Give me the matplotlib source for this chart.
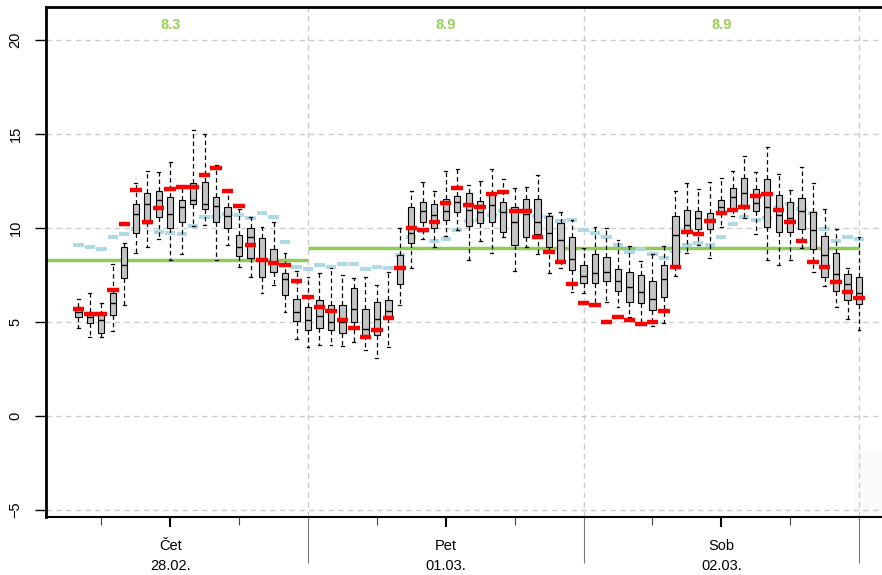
import numpy as np
import matplotlib.pyplot as plt
from matplotlib.patches import Rectangle

plt.rcParams['font.family'] = ['Liberation Sans Narrow', 'Liberation Sans', 'DejaVu Sans']

# hourly forecast steps, counted from 28.02. 00 h
hours = np.arange(4, 73)

# ensemble spread per hour (whisker low, quartiles, median, whisker high)
ens_low = [4.65, 4.20, 4.17, 4.52, 5.89, 8.67, 8.99, 9.38, 8.28, 8.60,
           10.09, 10.12, 8.28, 9.08, 7.93, 7.39, 6.55, 6.95, 5.53, 4.06,
           3.63, 3.76, 3.76, 3.71, 3.94, 3.49, 3.05, 3.67, 5.89, 7.84,
           9.38, 8.99, 9.56, 9.88, 8.28, 9.31, 8.63, 9.49, 7.71, 8.99,
           8.60, 7.57, 7.84, 6.60, 6.51, 5.89, 6.06, 5.80, 5.27, 5.00,
           4.75, 4.91, 7.43, 8.63, 9.08, 8.37, 10.05, 10.60, 10.50, 9.66,
           8.28, 8.01, 8.28, 8.90, 7.66, 6.90, 5.80, 5.12, 4.56]
ens_q1 = [5.23, 4.91, 4.41, 5.35, 7.30, 9.73, 10.32, 10.59, 9.96, 10.32,
          11.24, 10.98, 10.32, 9.96, 8.49, 8.37, 7.39, 7.62, 6.42, 5.05,
          4.56, 4.65, 4.56, 4.38, 4.96, 4.29, 4.29, 5.18, 6.99, 9.17,
          10.32, 9.96, 10.41, 10.85, 10.09, 10.27, 10.32, 9.75, 9.08, 9.49,
          9.66, 8.95, 8.28, 7.74, 7.08, 7.04, 7.16, 6.65, 6.06, 5.98,
          5.62, 6.33, 7.98, 9.79, 9.91, 9.91, 10.76, 10.99, 11.21, 10.89,
          10.05, 9.79, 9.79, 9.91, 8.85, 7.39, 6.63, 6.15, 5.94]
ens_med = [5.53, 5.23, 5.09, 5.98, 8.01, 10.71, 11.24, 11.47, 10.71, 11.08,
           11.47, 11.24, 11.15, 10.62, 8.99, 9.49, 8.30, 8.16, 7.25, 5.53,
           5.10, 5.30, 5.00, 5.00, 5.66, 4.59, 5.12, 5.57, 7.87, 9.70,
           10.89, 10.67, 10.89, 11.38, 10.94, 10.82, 11.21, 10.85, 10.28, 10.73,
           10.32, 9.70, 9.34, 8.32, 7.44, 7.57, 7.66, 7.18, 6.83, 6.60,
           6.19, 7.27, 9.61, 10.14, 10.50, 10.41, 11.12, 11.65, 11.86, 11.33,
           11.08, 10.67, 10.50, 10.89, 9.88, 8.55, 7.52, 7.00, 6.54]
ens_q3 = [5.80, 5.53, 5.35, 6.54, 8.95, 11.24, 11.83, 11.95, 11.61, 11.47,
          12.39, 12.45, 11.61, 11.12, 9.61, 9.96, 9.43, 8.87, 7.57, 6.19,
          5.80, 6.15, 5.89, 5.89, 6.77, 5.66, 6.06, 6.15, 8.55, 11.08,
          11.38, 11.24, 11.52, 11.68, 11.86, 11.42, 11.79, 11.38, 11.12, 11.52,
          11.52, 10.64, 10.27, 9.52, 8.01, 8.60, 8.46, 7.80, 7.62, 7.48,
          7.18, 8.01, 10.62, 10.94, 10.89, 10.76, 11.47, 12.13, 12.62, 12.04,
          12.59, 11.74, 11.35, 11.56, 10.85, 9.56, 8.67, 7.54, 7.39]
ens_high = [6.21, 6.51, 5.98, 8.07, 9.17, 12.39, 13.03, 12.98, 13.51, 12.18,
            15.19, 14.98, 13.33, 12.00, 11.00, 10.59, 10.05, 10.32, 8.67, 7.71,
            7.40, 7.57, 7.84, 7.48, 7.30, 7.39, 6.95, 7.66, 9.96, 11.95,
            12.45, 11.97, 13.03, 13.10, 12.27, 12.48, 13.12, 12.57, 12.09, 12.15,
            12.80, 10.76, 10.82, 10.41, 8.90, 10.05, 9.96, 9.34, 9.02, 8.23,
            8.60, 9.02, 11.95, 12.36, 12.04, 12.45, 12.62, 13.03, 13.81, 12.98,
            14.31, 12.84, 12.00, 13.21, 12.39, 10.99, 9.91, 7.84, 9.49]

# deterministic run (red) and climate reference (light blue)
det = [5.67, 5.39, 5.39, 6.67, 10.18, 11.99, 10.28, 11.06, 12.06, 12.18,
       12.18, 12.80, 13.19, 11.97, 11.16, 9.08, 8.28, 8.10, 8.00, 7.16,
       6.30, 5.80, 5.57, 5.09, 4.68, 4.17, 4.56, 5.18, 7.87, 9.96,
       9.88, 10.32, 11.29, 12.09, 11.20, 11.08, 11.79, 11.88, 10.89, 10.89,
       9.49, 8.69, 8.19, 6.99, 5.98, 5.89, 4.96, 5.27, 5.07, 4.88,
       4.96, 5.57, 7.89, 9.79, 9.66, 10.37, 10.76, 10.94, 11.08, 11.70,
       11.79, 10.94, 10.32, 9.31, 8.19, 7.89, 7.09, 6.56, 6.28]
clim = [9.08, 8.99, 8.88, 9.49, 9.66, 9.93, 10.25, 9.79, 9.70, 9.66,
        10.07, 10.57, 10.57, 10.75, 10.65, 10.50, 10.76, 10.59, 9.26, 7.93,
        7.78, 8.01, 7.89, 8.07, 8.07, 7.78, 7.89, 7.84, 8.55, 9.49,
        9.85, 9.31, 9.38, 9.90, 10.37, 10.42, 10.65, 10.90, 10.89, 10.85,
        10.64, 10.59, 10.37, 10.39, 9.90, 9.70, 9.49, 9.08, 8.72, 8.87,
        8.58, 8.40, 8.78, 9.08, 9.17, 9.08, 9.50, 10.18, 10.59, 10.41,
        10.50, 11.08, 11.26, 10.98, 10.80, 9.91, 9.29, 9.49, 9.38]

day_start = [0, 24, 48]
day_mean = [8.3, 8.9, 8.9]
day_labels = ['Čet\n28.02.', 'Pet\n01.03.', 'Sob\n02.03.']

fig = plt.figure(figsize=(8.82, 5.75), dpi=100)
ax = fig.add_axes([46 / 882, 58 / 575, 1 - 46 / 882, 510 / 575])
ax.set_xlim(1.18, 74.0)
ax.set_ylim(-5.39, 21.74)

# grid
for y in [-5, 0, 5, 10, 15, 20]:
    ax.axhline(y, color='#cccccc', lw=1, ls=(0, (4, 3)), zorder=1)
for d in [24, 48, 72]:
    ax.axvline(d, color='#cccccc', lw=1, ls=(0, (4, 3)), zorder=1)

ax.add_patch(Rectangle((71.56, -5.39), 3, 3.57, facecolor='#fafafa',
                       edgecolor='none', zorder=0.5))

# daily means
ds = np.array(day_start)
ax.hlines(day_mean, ds, ds + 24, color='#8fcc55', lw=2.5, zorder=2)
for s, m in zip(day_start, day_mean):
    ax.text(s + 12, 20.8, f'{m:.1f}', color='#9acd5a', fontweight='bold',
            ha='center', va='center', fontsize=10.5)

h = np.array(hours, dtype=float)
ax.hlines(clim, h - 0.45, h + 0.45, color='#add8e6', lw=2.8, zorder=2,
          capstyle='butt')

stats = [dict(whislo=lo, q1=a, med=m, q3=b, whishi=hi, fliers=[])
         for lo, a, m, b, hi in zip(ens_low, ens_q1, ens_med, ens_q3, ens_high)]
ax.bxp(stats, positions=hours, widths=0.55, capwidths=0.25, patch_artist=True,
       manage_ticks=False,
       boxprops=dict(facecolor='#c4c4c4', edgecolor='black', lw=0.8),
       whiskerprops=dict(color='black', lw=0.9, ls=(0, (3.5, 2.5))),
       capprops=dict(color='black', lw=0.9),
       medianprops=dict(color='black', lw=1.0))

ax.hlines(det, h - 0.5, h + 0.5, color='#ff0000', lw=3.2, zorder=5,
          capstyle='butt')

# axes frame and ticks
ax.spines['right'].set_visible(False)
ax.spines['left'].set_linewidth(2)
ax.spines['top'].set_linewidth(2)
ax.spines['bottom'].set_linewidth(1.5)

ax.set_yticks([-5, 0, 5, 10, 15, 20])
ax.tick_params(axis='y', length=8, width=1, pad=9, labelsize=10.5,
               labelrotation=90)
for lbl in ax.get_yticklabels():
    lbl.set_verticalalignment('center')

ax.set_xticks([12, 36, 60])
ax.set_xticklabels(day_labels)
ax.set_xticks([6, 18, 30, 42, 54, 66], minor=True)
ax.tick_params(axis='x', which='major', length=7.5, width=1.5, pad=8,
               labelsize=10.5)
ax.tick_params(axis='x', which='minor', length=5.5, width=0.8, color='#444444')
for lbl in ax.get_xticklabels():
    lbl.set_linespacing(1.55)

# day separators below the axis
ax.vlines([24, 48, 72], -0.09, 0, transform=ax.get_xaxis_transform(),
          color='#777777', lw=0.8, clip_on=False)

fig.savefig('out.png', dpi=100)
